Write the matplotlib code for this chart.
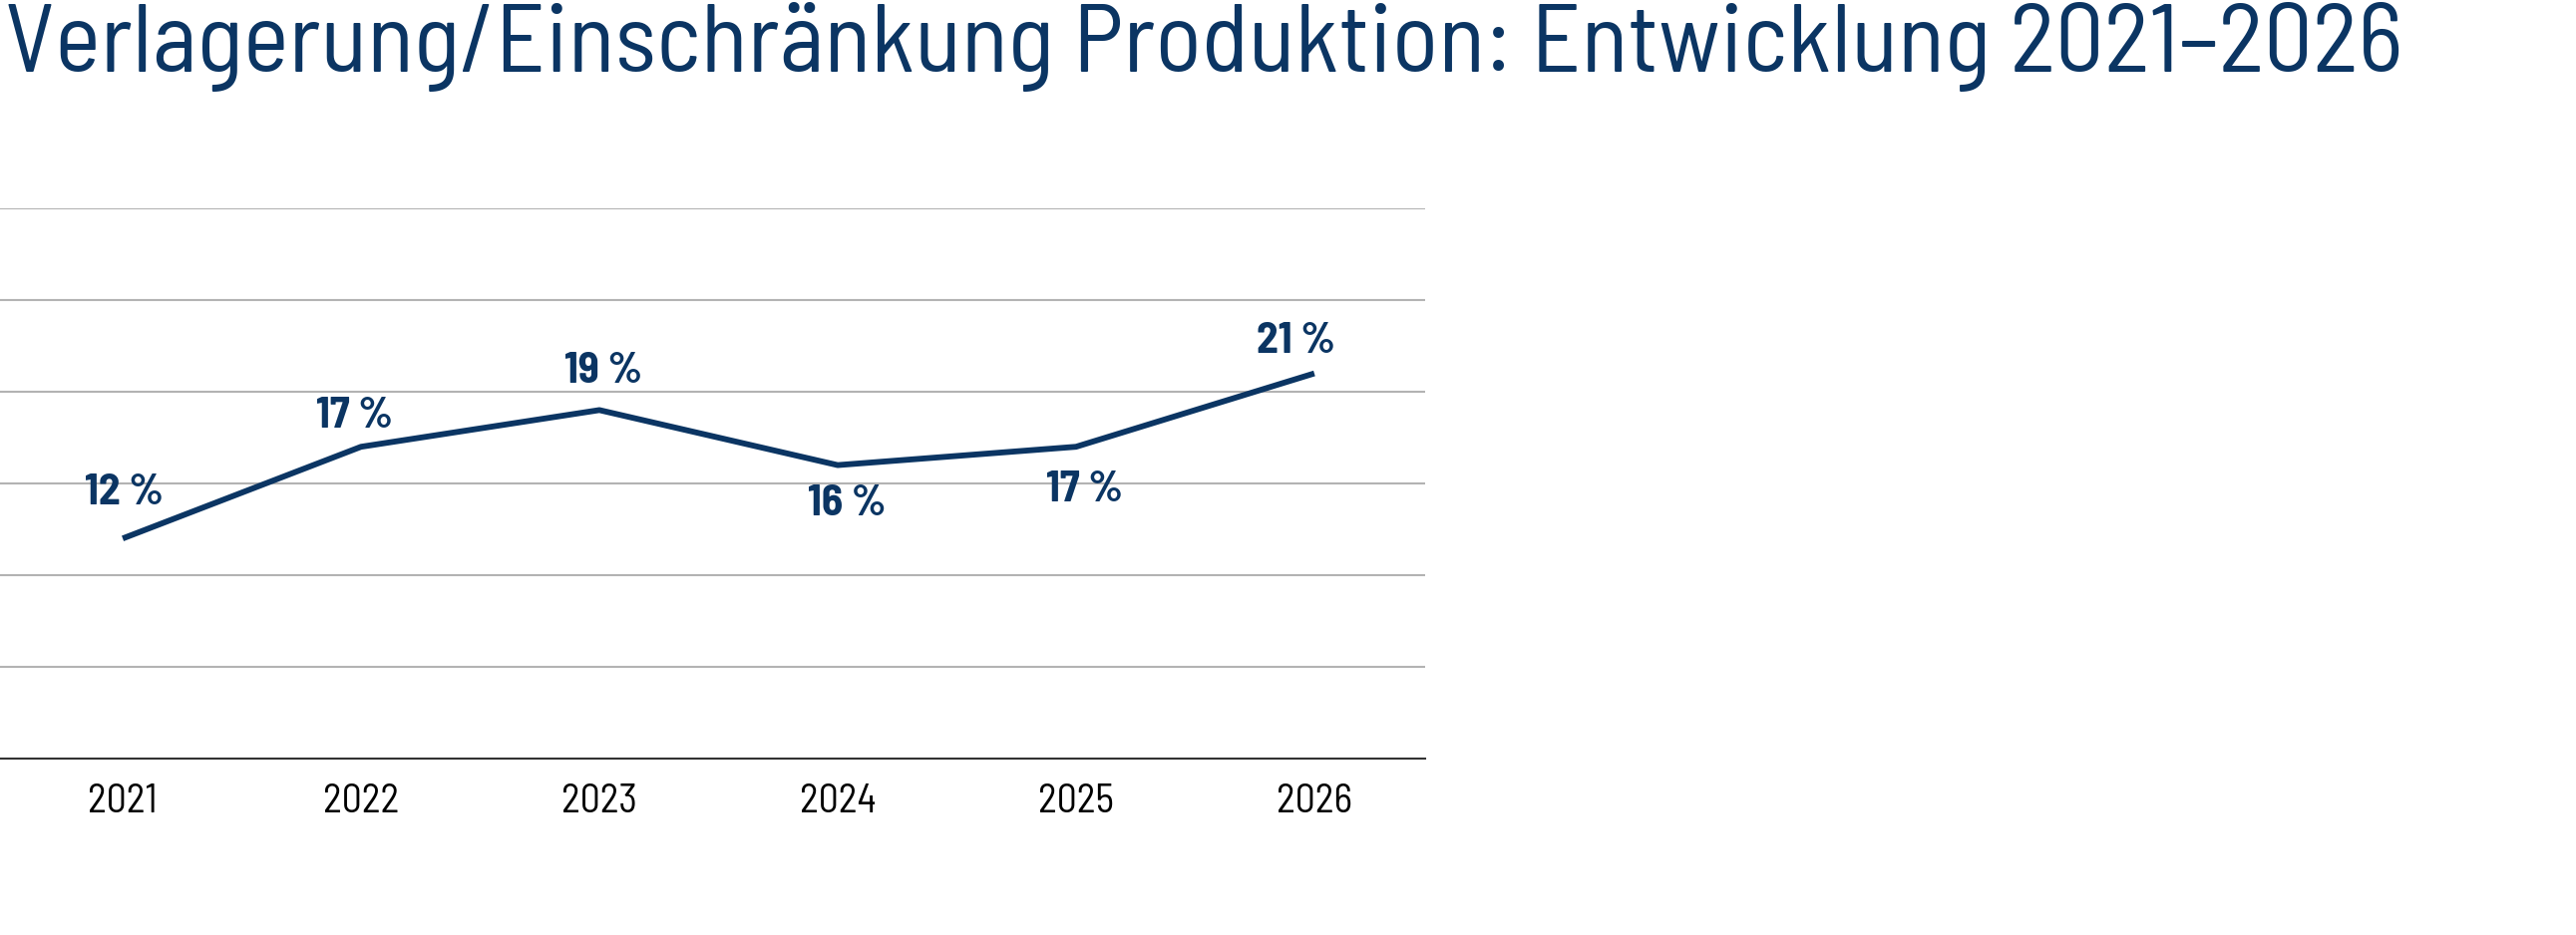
import matplotlib
matplotlib.use("Agg")
import matplotlib.pyplot as plt

years = ['2021', '2022', '2023', '2024', '2025', '2026']
values = [12, 17, 19, 16, 17, 21]
labels = ['12 %', '17 %', '19 %', '16 %', '17 %', '21 %']
title = 'Verlagerung/Einschränkung Produktion: Entwicklung 2021–2026'
# label offsets in points (above / below the line)
label_dx = [1, -5, 3, 7, 6, -13]
label_dy = [33, 22, 28, -28, -31, 23]

navy = '#0b3563'
plt.rcParams['font.family'] = ['Barlow Semi Condensed', 'DejaVu Sans']

fig = plt.figure(figsize=(25.83, 9.38), dpi=100)
ax = fig.add_axes([0.0, 1 - 761 / 938, 1429 / 2583, (761 - 209) / 938])

x = list(range(len(years)))
ax.plot(x, values, color=navy, linewidth=4.2, solid_capstyle='butt', zorder=3)

ann = []
for xi, v, lab, dx, dy in zip(x, values, labels, label_dx, label_dy):
    t = ax.annotate(lab, (xi, v), xytext=(dx, dy), textcoords='offset points',
                    ha='center', va='center', fontsize=30, fontweight='bold', color=navy)
    ann.append(t)

ax.set_ylim(0, 30)
ax.set_xlim(-0.515, 5.465)
ax.set_yticks([5, 10, 15, 20, 25, 30])
ax.yaxis.grid(True, color='#b3b3b3', linewidth=1.5)
ax.set_axisbelow(True)
ax.tick_params(axis='y', left=False, labelleft=False)
ax.set_xticks(x)
ax.set_xticklabels(years, fontsize=27)
ax.tick_params(axis='x', length=0, pad=18)
for s in ['top', 'right', 'left']:
    ax.spines[s].set_visible(False)
ax.spines['bottom'].set_color('#333333')
ax.spines['bottom'].set_linewidth(1.5)

ttl = fig.text(0.002, 1 - 72 / 938, title, fontsize=62, color=navy, ha='left', va='baseline')

# one font size per group, scaled so the texts get their reference widths
fig.canvas.draw()
renderer = fig.canvas.get_renderer()
groups = [([ttl], 2405), (ann, 78), (ax.get_xticklabels(), 75)]
for texts, target in groups:
    ws = [t.get_window_extent(renderer).width for t in texts]
    mean_w = sum(ws) / len(ws)
    s = target / mean_w if mean_w > 0 else 1.0
    s = min(max(s, 0.5), 2.0)
    for t in texts:
        t.set_fontsize(t.get_fontsize() * s)

fig.savefig('out.png', dpi=100, facecolor='white')
